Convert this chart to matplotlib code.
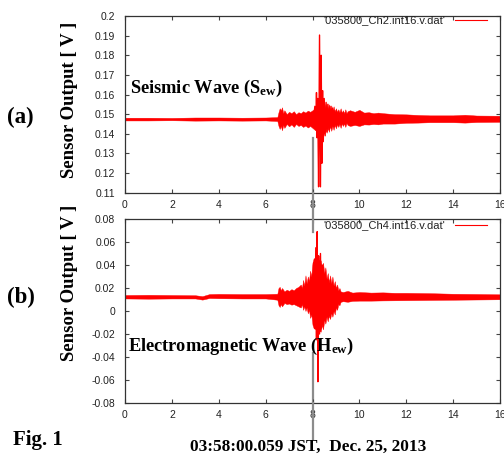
import matplotlib
matplotlib.use("Agg")
import matplotlib.pyplot as plt
from matplotlib.lines import Line2D
from matplotlib.ticker import FuncFormatter

plt.rcParams["mathtext.fontset"] = "custom"
plt.rcParams["mathtext.rm"] = "Liberation Serif:bold"
plt.rcParams["mathtext.bf"] = "Liberation Serif:bold"
plt.rcParams["mathtext.it"] = "Liberation Serif:bold"

# ---------------- data ----------------
# (a) seismic channel: envelope of the dense trace
t_a_env = [0, 1, 2, 3, 4, 5, 6, 6.5, 6.55, 6.6, 6.65, 6.7, 6.75, 6.8, 6.9, 7.0, 7.1, 7.2, 7.3, 7.4, 7.5,
           7.6, 7.7, 7.8, 7.9, 8.0, 8.1,
           8.5, 8.55, 8.6, 8.65, 8.7, 8.75, 8.8, 8.85, 8.9, 8.95, 9.0, 9.05, 9.1, 9.15, 9.2, 9.25, 9.3, 9.35, 9.4, 9.45, 9.5,
           9.6, 9.8, 10.0, 10.2, 10.4, 10.6, 10.8, 11, 11.5, 12, 12.5, 13, 14, 14.5, 15, 16]
a_upper = [0.1482, 0.1482, 0.1481, 0.1483, 0.1483, 0.1482, 0.1483, 0.1485, 0.1510, 0.1530, 0.1520, 0.1535, 0.1505, 0.1520, 0.1500, 0.1512, 0.1505, 0.1515, 0.1500, 0.1510, 0.1505,
           0.1515, 0.1508, 0.1518, 0.1512, 0.1520, 0.1530,
           0.1560, 0.1530, 0.1555, 0.1525, 0.1550, 0.1520, 0.1545, 0.1520, 0.1540, 0.1515, 0.1530, 0.1512, 0.1525, 0.1510, 0.1530, 0.1508, 0.1520, 0.1505, 0.1525, 0.1505, 0.1515,
           0.1520, 0.1512, 0.1522, 0.1508, 0.1510, 0.1505, 0.1508, 0.1505, 0.1500, 0.1499, 0.1496, 0.1494, 0.1494, 0.1497, 0.1493, 0.1492]
a_lower = [0.1468, 0.1468, 0.1469, 0.1467, 0.1468, 0.1467, 0.1468, 0.1465, 0.1440, 0.1425, 0.1440, 0.1418, 0.1445, 0.1430, 0.1450, 0.1438, 0.1448, 0.1435, 0.1450, 0.1440, 0.1445,
           0.1435, 0.1442, 0.1432, 0.1440, 0.1430, 0.1420,
           0.1400, 0.1430, 0.1405, 0.1435, 0.1410, 0.1440, 0.1415, 0.1440, 0.1420, 0.1445, 0.1428, 0.1448, 0.1435, 0.1450, 0.1430, 0.1452, 0.1440, 0.1452, 0.1435, 0.1455, 0.1445,
           0.1440, 0.1445, 0.1440, 0.1448, 0.1447, 0.1450, 0.1448, 0.1452, 0.1452, 0.1456, 0.1457, 0.1459, 0.1459, 0.1457, 0.1460, 0.1461]
# (a) large oscillations around the main arrival
t_a_osc = [8.05, 8.10, 8.14, 8.17, 8.19, 8.22, 8.24, 8.26, 8.30, 8.34, 8.37, 8.40, 8.43, 8.46, 8.50, 8.54, 8.58, 8.62, 8.66, 8.70, 8.75, 8.80, 8.85, 8.90]
a_osc = [0.1475, 0.1540, 0.1420, 0.1610, 0.1380, 0.1580, 0.1360, 0.1130, 0.1903, 0.1130, 0.1800, 0.1250, 0.1620, 0.1360, 0.1580, 0.1390, 0.1560, 0.1410, 0.1550, 0.1420, 0.1540, 0.1430, 0.1530, 0.1475]

# (b) electromagnetic channel: envelope of the dense trace
t_b_env = [0, 1, 2, 3, 3.3, 3.6, 4, 5, 6, 6.5, 6.55, 6.6, 6.65, 6.7, 6.8, 6.9, 7.0, 7.1, 7.2, 7.3, 7.4,
           7.5, 7.55, 7.6, 7.65, 7.7, 7.75, 7.8, 7.85, 7.9, 7.95, 8.0, 8.05,
           8.35, 8.4, 8.45, 8.5, 8.55, 8.6, 8.65, 8.7, 8.75, 8.8, 8.85, 8.9, 8.95, 9.0, 9.05, 9.1, 9.15, 9.2,
           9.3, 9.5, 9.7, 10, 10.5, 11, 11.5, 12, 13, 14, 15, 16]
b_upper = [0.0139, 0.0141, 0.0139, 0.0137, 0.0129, 0.0147, 0.0149, 0.0147, 0.0147, 0.0150, 0.0200, 0.0210, 0.0180, 0.0200, 0.0170, 0.0185, 0.0175, 0.0190, 0.0180, 0.0200, 0.0210,
           0.0230, 0.0200, 0.0270, 0.0220, 0.0310, 0.0240, 0.0300, 0.0260, 0.0350, 0.0300, 0.0420, 0.0460,
           0.0440, 0.0380, 0.0420, 0.0330, 0.0380, 0.0280, 0.0330, 0.0250, 0.0310, 0.0240, 0.0300, 0.0220, 0.0260, 0.0200, 0.0230, 0.0180, 0.0200, 0.0170,
           0.0165, 0.0175, 0.0160, 0.0165, 0.0160, 0.0162, 0.0158, 0.0158, 0.0155, 0.0150, 0.0148, 0.0145]
b_lower = [0.0109, 0.0107, 0.0109, 0.0109, 0.0099, 0.0113, 0.0111, 0.0109, 0.0109, 0.0098, 0.0050, 0.0035, 0.0060, 0.0040, 0.0070, 0.0060, 0.0065, 0.0055, 0.0060, 0.0050, 0.0040,
           0.0030, 0.0060, 0.0010, 0.0040, 0.0000, 0.0030, -0.0020, 0.0010, -0.0060, -0.0030, -0.0120, -0.0150,
           -0.0180, -0.0120, -0.0160, -0.0080, -0.0110, -0.0050, -0.0090, -0.0040, -0.0070, -0.0020, -0.0050, 0.0000, -0.0030, 0.0030, 0.0010, 0.0060, 0.0050, 0.0080,
           0.0085, 0.0080, 0.0088, 0.0090, 0.0090, 0.0092, 0.0093, 0.0094, 0.0096, 0.0098, 0.0100, 0.0102]
# (b) large oscillations around the main arrival
t_b_osc = [8.00, 8.05, 8.10, 8.14, 8.17, 8.20, 8.23, 8.26, 8.30, 8.34, 8.38, 8.42, 8.46, 8.50]
b_osc = [0.0125, 0.0420, -0.0150, 0.0550, -0.0250, 0.0690, -0.0615, 0.0480, -0.0200, 0.0500, -0.0150, 0.0400, -0.0050, 0.0125]

event_time = 8.0
a_event_top = 0.1378
b_event_top = -0.0365

x_ticks = [0, 2, 4, 6, 8, 10, 12, 14, 16]
a_ticks = [0.11, 0.12, 0.13, 0.14, 0.15, 0.16, 0.17, 0.18, 0.19, 0.2]
b_ticks = [-0.08, -0.06, -0.04, -0.02, 0, 0.02, 0.04, 0.06, 0.08]

legend_a = "'035800_Ch2.int16.v.dat'"
legend_b = "'035800_Ch4.int16.v.dat'"

# ---------------- figure ----------------
W, H = 504, 454
fig = plt.figure(figsize=(W / 100, H / 100), dpi=100)
fig.patch.set_facecolor("white")

RED = "#ff0000"
GRAY = "#8c8c8c"
serif_bold = dict(family="Liberation Serif", weight="bold", color="black")


def fmt(v, pos):
    s = ("%.2f" % v).rstrip("0").rstrip(".")
    if s in ("-0", ""):
        s = "0"
    return s


def style(ax, yticks, ylim):
    ax.set_xlim(0, 16)
    ax.set_ylim(*ylim)
    ax.set_xticks(x_ticks)
    ax.set_yticks(yticks)
    ax.xaxis.set_major_formatter(FuncFormatter(fmt))
    ax.yaxis.set_major_formatter(FuncFormatter(fmt))
    ax.tick_params(direction="in", length=3, width=0.8, top=True, right=True,
                   labelsize=7.5, labelcolor="#222222", color="#444444")
    ax.tick_params(axis="y", pad=7)
    ax.tick_params(axis="x", pad=5)
    for lab in ax.get_xticklabels() + ax.get_yticklabels():
        lab.set_family("Liberation Sans")
    for s in ax.spines.values():
        s.set_linewidth(0.9)
        s.set_color("#333333")


def legend(ax, label, y):
    ax.text(0.853, y, label, transform=ax.transAxes, ha="right", va="center",
            family="Liberation Sans", size=8, color="#222222")
    ax.add_line(Line2D([0.88, 0.965], [y, y], transform=ax.transAxes, color=RED, lw=0.8))


# (a)
ax1 = fig.add_axes([125 / W, 1 - 192.7 / H, 375 / W, (192.7 - 16) / H])
ax1.fill_between(t_a_env, a_lower, a_upper, color=RED, lw=0.3, edgecolor=RED)
ax1.plot(t_a_osc, a_osc, color=RED, lw=1.0)
ax1.plot([event_time, event_time], [0.11, a_event_top], color=GRAY, lw=1.6, zorder=1)
style(ax1, a_ticks, (0.11, 0.2))
legend(ax1, legend_a, 0.975)

# (b)
ax2 = fig.add_axes([125 / W, 1 - 403 / H, 375 / W, (403 - 219) / H])
ax2.fill_between(t_b_env, b_lower, b_upper, color=RED, lw=0.3, edgecolor=RED)
ax2.plot(t_b_osc, b_osc, color=RED, lw=1.0)
ax2.plot([event_time, event_time], [-0.08, b_event_top], color=GRAY, lw=1.6, zorder=1)
style(ax2, b_ticks, (-0.08, 0.08))
legend(ax2, legend_b, 0.967)

# vertical marker through the gap between panels and below the lower panel
xf = 125 / W + (event_time / 16) * 375 / W
fig.add_artist(Line2D([xf, xf], [1 - 192.7 / H, 1 - 232 / H], color=GRAY, lw=1.6))
fig.add_artist(Line2D([xf, xf], [1 - 403 / H, 1 - 439 / H], color=GRAY, lw=1.6))

# annotations
fig.text(130 / W, 1 - 88 / H, "Seismic Wave (S$_{\\mathrm{ew}}$)", ha="left", va="center", size=13.2, **serif_bold)
fig.text(128 / W, 1 - 346 / H, "Electromagnetic Wave (H$_{\\mathrm{ew}}$)", ha="left", va="center", size=13.2, **serif_bold)
fig.text(7 / W, 1 - 117 / H, "(a)", ha="left", va="center", size=16.5, **serif_bold)
fig.text(7 / W, 1 - 297 / H, "(b)", ha="left", va="center", size=16.5, **serif_bold)
fig.text(70 / W, 1 - 100 / H, "Sensor Output [ V ]", ha="center", va="center", rotation=90, size=13.5, **serif_bold)
fig.text(70 / W, 1 - 283 / H, "Sensor Output [ V ]", ha="center", va="center", rotation=90, size=13.5, **serif_bold)
fig.text(13 / W, 1 - 440 / H, "Fig. 1", ha="left", va="center", size=15, **serif_bold)
fig.text(308 / W, 1 - 447 / H, "03:58:00.059 JST,  Dec. 25, 2013", ha="center", va="center", size=12.4, **serif_bold)

fig.savefig("out.png", dpi=100, facecolor="white")
